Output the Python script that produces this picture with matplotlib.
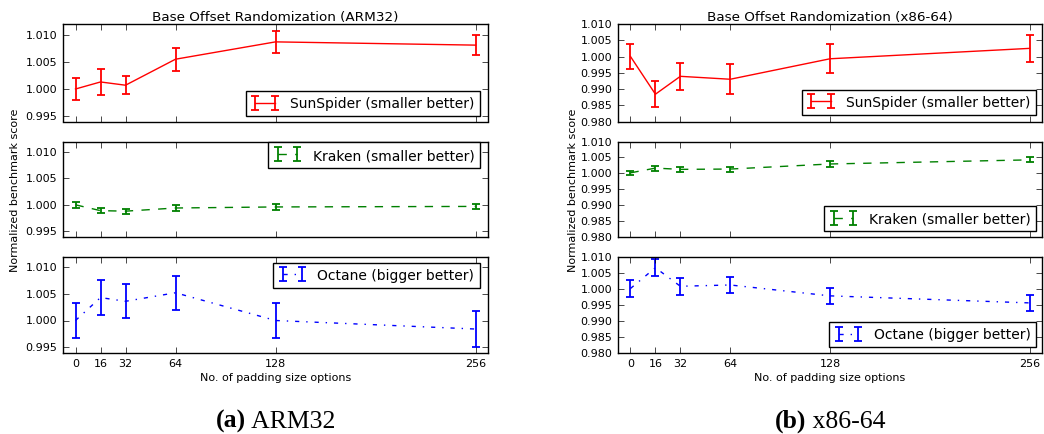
import matplotlib
matplotlib.use("Agg")
import matplotlib.pyplot as plt
from matplotlib.ticker import FormatStrFormatter

plt.style.use("classic")
plt.rcParams.update({
    "font.family": ["DejaVu Sans"],
    "font.size": 8,
    "figure.facecolor": "white",
    "savefig.facecolor": "white",
    "axes.formatter.useoffset": False,
    "legend.numpoints": 2,
})

padding = [0, 16, 32, 64, 128, 256]
xtick_labels = ["0", "16", "32", "64", "128", "256"]

# ARM32
arm_sun = [1.0000, 1.0013, 1.0007, 1.0055, 1.0087, 1.0081]
arm_sun_err = [0.0020, 0.0024, 0.0017, 0.0021, 0.0020, 0.0019]
arm_kra = [1.0000, 0.9989, 0.9988, 0.9994, 0.9996, 0.9997]
arm_kra_err = [0.0006, 0.0005, 0.00045, 0.0006, 0.0006, 0.0005]
arm_oct = [1.0000, 1.0043, 1.0036, 1.0052, 1.0000, 0.9984]
arm_oct_err = [0.0032, 0.0033, 0.0032, 0.0032, 0.0033, 0.0033]

# x86-64
x86_sun = [1.0000, 0.9884, 0.9939, 0.9930, 0.9993, 1.0025]
x86_sun_err = [0.0038, 0.0040, 0.0042, 0.0046, 0.0044, 0.0042]
x86_kra = [1.0001, 1.0016, 1.0012, 1.0013, 1.0029, 1.0042]
x86_kra_err = [0.0007, 0.0008, 0.0009, 0.0008, 0.0008, 0.0008]
x86_oct = [1.0000, 1.0065, 1.0007, 1.0011, 0.9977, 0.9955]
x86_oct_err = [0.0026, 0.0026, 0.0026, 0.0026, 0.0025, 0.0026]

labels = ["SunSpider (smaller better)", "Kraken (smaller better)", "Octane (bigger better)"]
colors = ["r", "g", "b"]
styles = ["-", "--", "-."]

arm_ticks = [0.995, 1.000, 1.005, 1.010]
x86_ticks = [0.980, 0.985, 0.990, 0.995, 1.000, 1.005, 1.010]

fig = plt.figure(figsize=(10.44, 4.35), dpi=100)

rows = [(25, 122.5), (142.5, 237.5), (257.5, 353.5)]
H = 435.0
W = 1044.0
cols = [(63, 488), (618, 1042)]
ylabel_x = [15, 573]

panels = [
    ([arm_sun, arm_kra, arm_oct], [arm_sun_err, arm_kra_err, arm_oct_err],
     (0.994, 1.012), arm_ticks, "Base Offset Randomization (ARM32)",
     [("lower right", (0.981, 0.056)), ("upper right", (0.981, 0.99)), ("upper right", (0.981, 0.935))],
     "(a)", " ARM32"),
    ([x86_sun, x86_kra, x86_oct], [x86_sun_err, x86_kra_err, x86_oct_err],
     (0.980, 1.010), x86_ticks, "Base Offset Randomization (x86-64)",
     [("lower right", (0.986, 0.07)), ("lower right", (0.986, 0.058)), ("lower right", (0.986, 0.057))],
     "(b)", " x86-64"),
]

captions = []
for ci, (series, errs, ylim, yt, title, legs, cap_b, cap_r) in enumerate(panels):
    x0, x1 = cols[ci]
    for ri, (t, b) in enumerate(rows):
        ax = fig.add_axes([x0 / W, 1 - b / H, (x1 - x0) / W, (b - t) / H])
        ax.errorbar(padding, series[ri], yerr=errs[ri], color=colors[ri],
                    linestyle=styles[ri], linewidth=1.0, elinewidth=1.3,
                    capsize=3, capthick=1.3, label=labels[ri])
        ax.set_xlim(-8, 264)
        ax.set_ylim(*ylim)
        ax.set_yticks(yt)
        ax.yaxis.set_major_formatter(FormatStrFormatter("%.3f"))
        ax.set_xticks(padding)
        if ri == 2:
            ax.set_xticklabels(xtick_labels)
            ax.set_xlabel("No. of padding size options", fontsize=8, labelpad=3)
        else:
            ax.set_xticklabels([])
        if ri == 0:
            ax.set_title(title, fontsize=9.7, pad=3)
        if ri == 1:
            ax.set_ylabel("Normalized benchmark score", fontsize=8)
            ax.yaxis.set_label_coords((ylabel_x[ci] - x0) / (x1 - x0), 0.5)
            ax.yaxis.label.set_va("center")
        ax.tick_params(labelsize=8)
        loc, anchor = legs[ri]
        ax.legend(loc=loc, bbox_to_anchor=anchor, fontsize=10, borderaxespad=0.0,
                  fancybox=False, frameon=True, handlelength=2.0)
    cx = ((x0 + x1) / 2) / W
    tb = fig.text(cx, 1 - 428 / H, cap_b, ha="left", va="baseline",
                  family="Liberation Serif", fontsize=18.5, fontweight="bold")
    tr = fig.text(cx, 1 - 428 / H, cap_r, ha="left", va="baseline",
                  family="Liberation Serif", fontsize=18.5)
    captions.append((cx, tb, tr))

# center each caption (bold label + regular text) under its panel
fig.canvas.draw()
renderer = fig.canvas.get_renderer()
for cx, tb, tr in captions:
    wb = tb.get_window_extent(renderer).width
    wr = tr.get_window_extent(renderer).width
    start = cx * W - (wb + wr) / 2
    tb.set_x(start / W)
    tr.set_x((start + wb) / W)

fig.savefig("out.png", dpi=100)
